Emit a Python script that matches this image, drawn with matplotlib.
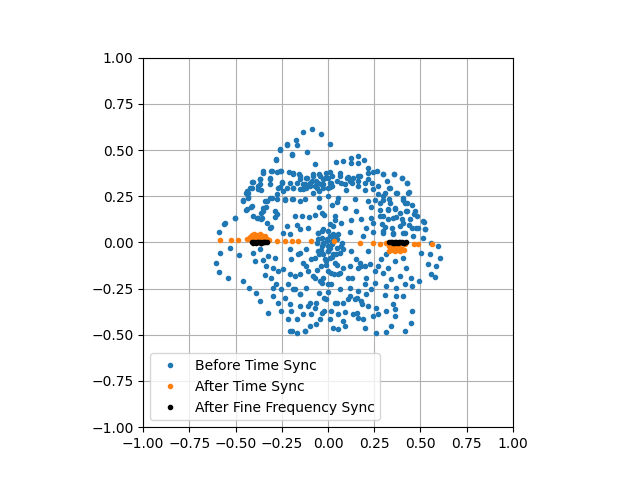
import numpy as np
import matplotlib.pyplot as plt

# points (x, y)
before_pts = [
    (-0.087, 0.615), (-0.136, 0.599), (-0.039, 0.586), (-0.172, 0.552), (-0.223, 0.529),
    (-0.168, 0.525), (-0.260, 0.502), (-0.195, 0.471), (-0.114, 0.491), (-0.280, 0.448),
    (-0.068, 0.426), (-0.352, 0.374), (-0.309, 0.386), (-0.275, 0.383), (-0.257, 0.386),
    (-0.212, 0.381), (-0.190, 0.374), (-0.159, 0.368), (-0.154, 0.341), (-0.118, 0.350),
    (-0.082, 0.359), (-0.046, 0.368), (-0.010, 0.377), (-0.136, 0.314), (-0.100, 0.323),
    (-0.064, 0.332), (-0.028, 0.341), (-0.001, 0.350), (-0.154, 0.287), (-0.118, 0.296),
    (-0.073, 0.305), (-0.037, 0.314), (-0.001, 0.296), (-0.082, 0.269), (-0.046, 0.278),
    (-0.370, 0.341), (-0.412, 0.329), (-0.313, 0.345), (-0.248, 0.329), (-0.316, 0.314),
    (-0.379, 0.305), (-0.424, 0.293), (-0.262, 0.300), (-0.365, 0.284), (-0.433, 0.269),
    (-0.446, 0.266), (-0.221, 0.293), (-0.190, 0.296), (-0.460, 0.228), (-0.433, 0.246),
    (-0.341, 0.224), (-0.305, 0.239), (-0.275, 0.262), (-0.230, 0.228), (-0.194, 0.233),
    (-0.154, 0.224), (-0.122, 0.233), (-0.051, 0.239), (-0.415, 0.194), (-0.442, 0.176),
    (-0.352, 0.188), (-0.334, 0.194), (-0.365, 0.161), (-0.408, 0.143), (-0.377, 0.131),
    (-0.505, 0.132), (-0.565, 0.102), (-0.590, 0.057), (-0.177, 0.143), (-0.141, 0.143),
    (-0.104, 0.138), (-0.073, 0.147), (-0.032, 0.161), (-0.289, 0.138), (-0.277, 0.154),
    (-0.361, 0.125), (-0.311, 0.086), (-0.168, 0.093), (-0.109, 0.077), (-0.055, 0.050),
    (-0.244, 0.053), (-0.208, 0.044), (-0.154, 0.071),
    (0.011, 0.531), (0.045, 0.435), (0.081, 0.441), (0.123, 0.459), (0.162, 0.468),
    (0.195, 0.446), (0.126, 0.432), (0.162, 0.432), (0.009, 0.381), (0.063, 0.377),
    (0.108, 0.356), (0.162, 0.359), (0.216, 0.377), (0.243, 0.383), (0.297, 0.368),
    (0.357, 0.368), (0.400, 0.350), (0.319, 0.332), (0.427, 0.320), (0.216, 0.401),
    (0.216, 0.341), (0.018, 0.323), (0.072, 0.320), (0.117, 0.332), (0.162, 0.305),
    (0.198, 0.282), (0.099, 0.284), (0.243, 0.287), (0.270, 0.260), (0.328, 0.295),
    (0.366, 0.269), (0.436, 0.273), (0.297, 0.251), (0.328, 0.233), (0.405, 0.242),
    (0.414, 0.215), (0.454, 0.201), (0.423, 0.170), (0.468, 0.152), (0.517, 0.111),
    (0.523, 0.075), (0.144, 0.233), (0.216, 0.224), (0.054, 0.242), (0.090, 0.188),
    (0.153, 0.170), (0.234, 0.194), (0.279, 0.215), (0.324, 0.183), (0.360, 0.180),
    (0.369, 0.140), (0.324, 0.129), (0.279, 0.143), (0.234, 0.134), (0.180, 0.129),
    (0.126, 0.120), (0.072, 0.107), (0.036, 0.143), (0.027, 0.089), (0.117, 0.057),
    (0.207, 0.080), (0.243, 0.057), (0.297, 0.062), (0.351, 0.044), (0.414, 0.053),
    (0.441, 0.093), (0.477, 0.080), (0.405, 0.107), (0.306, 0.084), (0.189, 0.035),
    (-0.532, -0.029), (-0.482, -0.070), (-0.586, -0.056), (-0.608, -0.110), (-0.590, -0.159),
    (-0.541, -0.191), (-0.406, -0.056), (-0.370, -0.038), (-0.397, -0.101), (-0.352, -0.097),
    (-0.325, -0.074), (-0.289, -0.083), (-0.334, -0.128), (-0.298, -0.137), (-0.271, -0.155),
    (-0.460, -0.209), (-0.428, -0.249), (-0.388, -0.272), (-0.370, -0.317), (-0.325, -0.380),
    (-0.343, -0.178), (-0.307, -0.191), (-0.280, -0.227), (-0.253, -0.254), (-0.298, -0.290),
    (-0.271, -0.326), (-0.253, -0.371), (-0.217, -0.416), (-0.208, -0.479), (-0.168, -0.492),
    (-0.122, -0.479), (-0.244, -0.146), (-0.208, -0.173), (-0.181, -0.182), (-0.154, -0.173),
    (-0.217, -0.227), (-0.181, -0.254), (-0.154, -0.281), (-0.118, -0.245), (-0.199, -0.092),
    (-0.208, -0.038), (-0.154, -0.056), (-0.118, -0.038), (-0.091, -0.092), (-0.118, -0.128),
    (-0.073, -0.191), (-0.046, -0.272), (-0.208, -0.335), (-0.154, -0.344), (-0.109, -0.344),
    (-0.064, -0.326), (-0.199, -0.371), (-0.136, -0.389), (-0.091, -0.389), (-0.064, -0.443),
    (-0.298, -0.245), (-0.235, -0.299), (-0.010, -0.308), (-0.019, -0.371),
    (-0.055, 0.016), (-0.028, -0.011), (-0.001, -0.047), (-0.046, -0.065), (-0.010, -0.101),
    (-0.037, -0.128), (-0.001, -0.155), (-0.028, -0.191), (-0.001, -0.227),
    (0.009, -0.029), (0.045, -0.065), (0.072, -0.020), (0.153, -0.092), (0.180, -0.128),
    (0.162, -0.137), (0.216, -0.047), (0.288, -0.092), (0.315, -0.065), (0.270, -0.128),
    (0.324, -0.137), (0.297, -0.164), (0.360, -0.101), (0.405, -0.083), (0.423, -0.137),
    (0.387, -0.182), (0.450, -0.191), (0.414, -0.227), (0.505, -0.056), (0.550, -0.065),
    (0.604, -0.083), (0.586, -0.128), (0.541, -0.119), (0.559, -0.173), (0.577, -0.187),
    (0.495, -0.209), (0.454, -0.236), (0.369, -0.290), (0.351, -0.335), (0.360, -0.398),
    (0.454, -0.371), (0.450, -0.434), (0.342, -0.452), (0.312, -0.483), (0.258, -0.490),
    (0.414, -0.479), (0.198, -0.461), (0.054, -0.470), (0.090, -0.452), (0.009, -0.416),
    (0.018, -0.371), (0.054, -0.389), (0.090, -0.375), (0.135, -0.389), (0.162, -0.407),
    (0.270, -0.389), (0.243, -0.398), (0.261, -0.353), (0.216, -0.344), (0.180, -0.317),
    (0.144, -0.308), (0.081, -0.326), (0.036, -0.326), (0.117, -0.290), (0.207, -0.281),
    (0.234, -0.254), (0.252, -0.218), (0.198, -0.227), (0.162, -0.263), (0.117, -0.245),
    (0.063, -0.254), (0.018, -0.227), (0.054, -0.173), (0.018, -0.164), (0.108, -0.191),
    (0.207, -0.191), (0.252, -0.155), (0.225, -0.119), (0.342, -0.200), (0.306, -0.283),
    (0.315, -0.236), (0.369, -0.245), (0.405, -0.290), (0.360, -0.362), (0.315, -0.371),
    (0.081, -0.137), (0.036, -0.110), (0.126, -0.047),
    (0.000, 0.250), (0.020, 0.200), (-0.020, 0.150), (0.010, 0.100), (-0.030, 0.060),
    (0.030, 0.030), (0.000, -0.020), (-0.040, -0.040), (0.020, -0.080), (-0.010, -0.120),
    (0.030, -0.170), (-0.030, -0.220), (0.000, -0.270), (0.040, 0.120), (-0.050, 0.190),
    (0.050, -0.120), (-0.060, -0.150), (0.010, 0.300), (0.050, 0.220), (-0.020, -0.300),
]

# extra points from the denser patches
before_pts_dense = [
    # band near y = 0.3 .. 0.37
    (-0.188, 0.368), (-0.151, 0.359), (-0.115, 0.350), (-0.079, 0.368), (-0.043, 0.359),
    (-0.016, 0.350), (0.020, 0.359), (0.065, 0.359), (0.101, 0.350), (0.137, 0.350),
    (0.173, 0.359), (-0.169, 0.323), (-0.124, 0.314), (-0.088, 0.332), (-0.052, 0.323),
    (-0.025, 0.314), (0.011, 0.323), (0.047, 0.332), (0.092, 0.314), (0.128, 0.323),
    (0.164, 0.332), (0.200, 0.323), (-0.188, 0.296), (-0.133, 0.287), (-0.097, 0.305),
    (-0.061, 0.296), (-0.025, 0.296), (0.020, 0.305),
    # blob at centre, just above zero
    (-0.052, 0.052), (-0.025, 0.070), (0.002, 0.061), (0.029, 0.043), (-0.034, 0.025),
    (-0.007, 0.016), (0.020, 0.007), (0.047, 0.016), (-0.025, -0.002), (0.011, 0.034),
    (0.056, 0.043),
    # blob at centre, just below zero
    (-0.061, -0.002), (-0.034, -0.020), (-0.007, 0.007), (0.020, -0.011), (0.047, -0.029),
    (0.074, -0.002), (-0.052, -0.047), (-0.025, -0.065), (0.002, -0.047), (0.029, -0.065),
    (0.065, -0.056), (0.083, -0.038), (-0.070, -0.083), (-0.016, -0.092), (0.011, -0.083),
    # lower middle
    (-0.160, -0.065), (-0.133, -0.110), (-0.106, -0.155), (-0.079, -0.182), (-0.043, -0.209),
    (-0.187, -0.254), (-0.151, -0.281), (-0.097, -0.326), (-0.070, -0.353), (-0.034, -0.380),
    (0.047, -0.326), (0.110, -0.308), (0.155, -0.299), (0.182, -0.335), (0.155, -0.380),
    (0.191, -0.416), (0.083, -0.425), (0.029, -0.461), (-0.043, -0.416), (-0.097, -0.452),
    (-0.169, -0.416), (-0.124, -0.479), (-0.196, -0.479), (0.065, -0.164), (0.128, -0.191),
    (0.173, -0.110), (0.200, -0.128), (0.119, -0.128),
    # right side, upper
    (0.263, 0.386), (0.299, 0.368), (0.357, 0.368), (0.398, 0.350), (0.425, 0.323),
    (0.236, 0.323), (0.272, 0.305), (0.308, 0.269), (0.335, 0.296), (0.371, 0.269),
    (0.434, 0.269), (0.254, 0.232), (0.299, 0.232), (0.335, 0.214), (0.407, 0.232),
    (0.425, 0.214), (0.281, 0.178), (0.326, 0.178), (0.362, 0.187), (0.389, 0.160),
    (0.425, 0.169), (0.470, 0.169), (0.479, 0.142), (0.299, 0.142), (0.353, 0.133),
    (0.398, 0.124), (0.443, 0.124), (0.515, 0.115), (0.245, 0.106), (0.290, 0.097),
    (0.344, 0.079), (0.389, 0.088), (0.452, 0.079), (0.488, 0.079), (0.524, 0.070),
    (0.299, 0.052), (0.353, 0.052), (0.407, 0.052), (0.461, 0.034), (0.515, 0.025),
    (0.560, -0.002), (0.596, -0.020),
    # left side, upper
    (-0.224, 0.530), (-0.260, 0.503), (-0.197, 0.476), (-0.281, 0.449), (-0.350, 0.386),
    (-0.305, 0.386), (-0.260, 0.386), (-0.368, 0.341), (-0.314, 0.350), (-0.407, 0.328),
    (-0.368, 0.314), (-0.251, 0.323), (-0.206, 0.323), (-0.440, 0.278), (-0.413, 0.296),
    (-0.377, 0.287), (-0.269, 0.296), (-0.242, 0.278), (-0.458, 0.224), (-0.431, 0.242),
    (-0.314, 0.242), (-0.332, 0.224), (-0.278, 0.233), (-0.233, 0.233), (-0.188, 0.233),
    (-0.413, 0.197), (-0.440, 0.179), (-0.350, 0.170), (-0.386, 0.134), (-0.359, 0.134),
    (-0.287, 0.170), (-0.503, 0.134), (-0.332, 0.106), (-0.314, 0.079), (-0.224, 0.088),
    (-0.557, 0.106),
]

after_time_x = [-0.583, -0.523, -0.487, -0.44, -0.42, -0.41, -0.40, -0.39, -0.38, -0.37,
                -0.36, -0.35, -0.34, -0.33, -0.42, -0.40, -0.38, -0.36, -0.34, -0.32,
                -0.277, -0.235, -0.194, -0.163, -0.091, 0.032, 0.171, 0.243, 0.279,
                0.315, 0.33, 0.34, 0.35, 0.36, 0.37, 0.38, 0.39, 0.40, 0.414, 0.33,
                0.35, 0.37, 0.39, 0.41, 0.468, 0.486, 0.562]
after_time_y = [0.011, 0.011, 0.011, 0.020, 0.030, 0.040, 0.043, 0.040, 0.035, 0.043,
                0.040, 0.030, 0.020, 0.016, 0.016, 0.025, 0.030, 0.025, 0.035, 0.012,
                0.007, 0.007, 0.007, 0.007, 0.007, 0.007, -0.002, -0.005, -0.010,
                -0.002, -0.020, -0.035, -0.040, -0.047, -0.040, -0.030, -0.045, -0.035,
                -0.010, -0.045, -0.025, -0.020, -0.010, -0.040, -0.010, -0.010, -0.007]

after_fine_x = [-0.41, -0.40, -0.39, -0.38, -0.37, -0.36, -0.35, -0.34, -0.33,
                -0.405, -0.385, -0.365, -0.345,
                0.33, 0.34, 0.35, 0.36, 0.37, 0.38, 0.39, 0.40, 0.41, 0.42,
                0.345, 0.365, 0.385, 0.405]
after_fine_y = [0.0, 0.002, -0.002, 0.0, 0.002, -0.002, 0.0, 0.002, 0.0,
                -0.003, 0.003, -0.003, 0.003,
                0.0, 0.002, -0.002, 0.0, 0.002, -0.002, 0.0, 0.002, -0.002, 0.0,
                0.003, -0.003, 0.003, -0.003]

pts = before_pts + before_pts_dense
bx = [p[0] for p in pts]
by = [p[1] for p in pts]

fig = plt.figure(figsize=(6.4, 4.8), dpi=100)
ax = fig.add_subplot(111)
ax.plot(bx, by, '.', label='Before Time Sync')
ax.plot(after_time_x, after_time_y, '.', label='After Time Sync')
ax.plot(after_fine_x, after_fine_y, 'k.', label='After Fine Frequency Sync')
ax.set_xlim(-1, 1)
ax.set_ylim(-1, 1)
ax.set_aspect('equal')
ax.grid(True)
ax.legend(loc='lower left')
fig.savefig('out.png')
